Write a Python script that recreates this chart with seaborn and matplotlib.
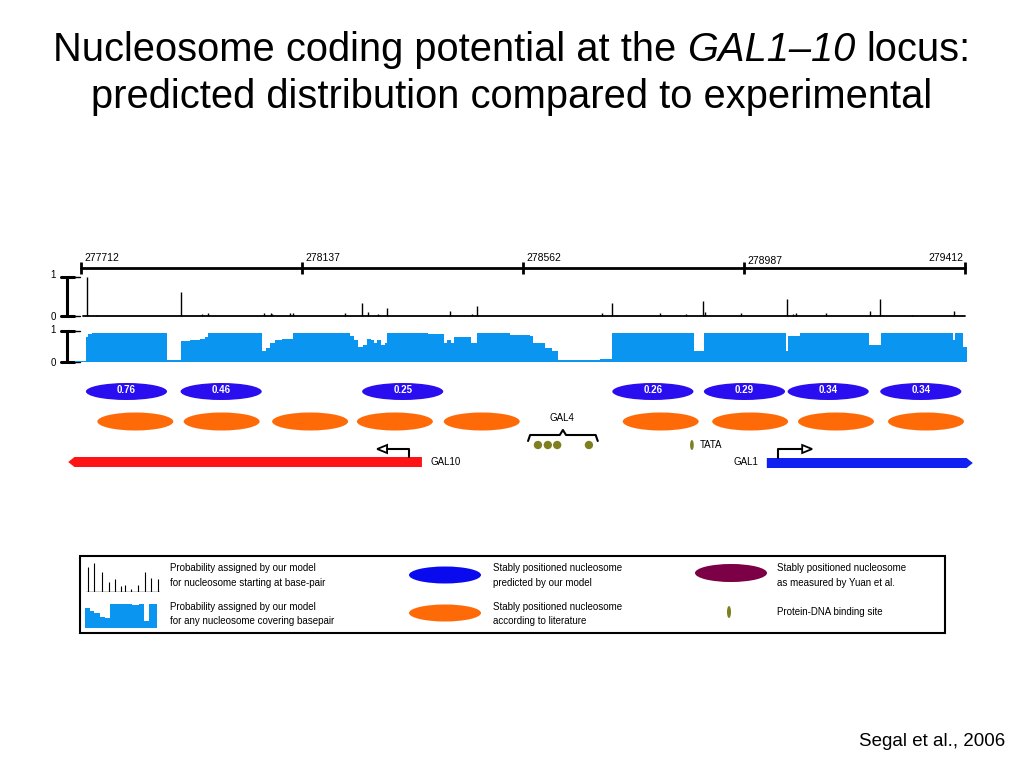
import numpy as np
import pandas as pd
import seaborn as sns
import matplotlib.pyplot as plt
from matplotlib.patches import Ellipse, Rectangle, Polygon

# dados (coordenadas genomicas em pb)
ruler_ticks = [277712, 278137, 278562, 278987, 279412]

spike_pos = [277724, 277743, 277905, 277945, 277957, 278064, 278078, 278080, 278114,
             278120, 278220, 278253, 278264, 278284, 278301, 278422, 278464, 278474,
             278714, 278733, 278743, 278826, 278876, 278908, 278912, 278981, 279070,
             279081, 279087, 279145, 279229, 279249, 279310, 279391]
spike_h = [1.0, 0.02, 0.62, 0.05, 0.08, 0.08, 0.08, 0.06, 0.08,
           0.08, 0.08, 0.34, 0.10, 0.04, 0.20, 0.12, 0.04, 0.25,
           0.08, 0.34, 0.03, 0.08, 0.04, 0.38, 0.10, 0.08, 0.44,
           0.06, 0.08, 0.08, 0.12, 0.44, 0.03, 0.12]

cov_x = [277701, 277711, 277722, 277726, 277734, 277878, 277905, 277922, 277941, 277951,
         277957, 278061, 278068, 278076, 278086, 278099, 278120, 278230, 278237, 278245,
         278255, 278262, 278270, 278276, 278282, 278289, 278297, 278301, 278380, 278410,
         278416, 278424, 278430, 278462, 278474, 278537, 278576, 278581, 278605, 278618,
         278630, 278672, 278710, 278733, 278826, 278891, 278910, 279031, 279068, 279072,
         279095, 279227, 279251, 279389, 279393, 279408, 279416]
cov_y = [0.03, 0.04, 0.80, 0.90, 0.94, 0.05, 0.68, 0.72, 0.75, 0.80,
         0.95, 0.35, 0.45, 0.60, 0.70, 0.75, 0.95, 0.85, 0.70, 0.50,
         0.55, 0.75, 0.70, 0.60, 0.70, 0.55, 0.62, 0.95, 0.90, 0.60,
         0.72, 0.62, 0.80, 0.60, 0.95, 0.88, 0.85, 0.60, 0.45, 0.35,
         0.05, 0.08, 0.10, 0.95, 0.92, 0.35, 0.95, 0.92, 0.35, 0.85,
         0.92, 0.55, 0.95, 0.70, 0.95, 0.50, 0.50]

pred_centers = [277800, 277982, 278331, 278812, 278988, 279149, 279327]
pred_scores = ["0.76", "0.46", "0.25", "0.26", "0.29", "0.34", "0.34"]
lit_centers = [277817, 277983, 278153, 278316, 278483, 278827, 278999, 279164, 279337]

gal4_sites = [278591, 278610, 278628, 278689]
tata_site = 278887
gal10 = (277688, 278368)   # (ponta, fim)
gal10_tss = 278343
gal1 = (279031, 279427)
gal1_tss = 279053

# miniaturas da legenda
leg_spike_x = [2, 7, 14, 20, 25, 30, 33, 38, 44, 50, 55, 61]
leg_spike_h = [0.85, 1.0, 0.7, 0.35, 0.45, 0.2, 0.25, 0.1, 0.25, 0.7, 0.5, 0.45]
leg_cov_x = [0, 4, 8, 13, 17, 21, 33, 40, 46, 50, 54, 61]
leg_cov_y = [0.8, 0.7, 0.6, 0.45, 0.4, 0.95, 0.95, 0.92, 0.95, 0.3, 0.95, 0.95]

sns.set_theme(style="white")
plt.rcParams['font.family'] = ['Liberation Sans', 'DejaVu Sans']
plt.rcParams['text.color'] = 'black'

W, H = 1024, 768
fig = plt.figure(figsize=(10.24, 7.68), dpi=100)

def box(x0, y0, x1, y1):
    return [x0 / W, 1 - y1 / H, (x1 - x0) / W, (y1 - y0) / H]

# escala: 277712 em x=80.7px, 279412 em x=965px
bp_px = (ruler_ticks[-1] - ruler_ticks[0]) / (965 - 80.7)
X0 = ruler_ticks[0] + (40 - 80.7) * bp_px
X1 = ruler_ticks[0] + (1000 - 80.7) * bp_px

# camada em pixels para decoracoes
ov = fig.add_axes([0, 0, 1, 1])
ov.set_xlim(0, W); ov.set_ylim(H, 0); ov.axis("off")

# titulo com parte em italico
TS = 28.7
r = fig.canvas.get_renderer()
def wpx(s, style="normal"):
    t = ov.text(0, 0, s, fontsize=TS, style=style)
    w = t.get_window_extent(renderer=r).width
    t.remove()
    return w
sp = wpx("a a") - wpx("aa")
parts = [("Nucleosome coding potential at the", "normal"), ("GAL1\u201310", "italic"), ("locus:", "normal")]
ws = [wpx(s, st) for s, st in parts]
x = W / 2 - (sum(ws) + 2 * sp) / 2
for (s, st), w in zip(parts, ws):
    ov.text(x, 61, s, fontsize=TS, style=st, va="baseline", ha="left")
    x += w + sp
ov.text(W / 2, 108, "predicted distribution compared to experimental", fontsize=TS,
        ha="center", va="baseline")

# trilha de anotacao (y em pixels)
ax = fig.add_axes(box(40, 245, 1000, 480))
ax.set_xlim(X0, X1); ax.set_ylim(480, 245); ax.axis("off")

ax.plot([ruler_ticks[0], ruler_ticks[-1]], [268, 268], color="black", lw=2)
ax.vlines(ruler_ticks, 262, 274, color="black", lw=2)
for i, t in enumerate(ruler_ticks):
    if i == len(ruler_ticks) - 1:
        ax.text(t - 2 * bp_px, 261, str(t), fontsize=7.5, ha="right", va="baseline")
    else:
        ax.text(t + 4 * bp_px, 264 if i == 3 else 261, str(t), fontsize=7.5, ha="left", va="baseline")

for c, s in zip(pred_centers, pred_scores):
    ax.add_patch(Ellipse((c, 391.5), 156, 17, color="#2a0ef0", lw=0))
    ax.text(c, 390, s, color="white", fontsize=7, fontweight="bold", ha="center", va="center")
for c in lit_centers:
    ax.add_patch(Ellipse((c, 421.5), 146, 18, color="#ff6a08", lw=0))

# GAL4 e TATA
sns.scatterplot(x=gal4_sites, y=[445] * len(gal4_sites), ax=ax, color="#7f7f20", s=36,
                edgecolor="none", legend=False)
bl, br = min(gal4_sites) - 19, max(gal4_sites) + 17
bc = (bl + br) / 2
ax.plot([bl, bl + 4, bc - 6, bc, bc + 6, br - 4, br], [441, 435, 435, 430, 435, 435, 441],
        color="black", lw=1.5)
ax.text(bc - 2, 418, "GAL4", fontsize=7, ha="center", va="center")
ax.add_patch(Ellipse((tata_site, 445), 7, 10, color="#7f7f20", lw=0))
ax.text(tata_site + 16, 445, "TATA", fontsize=7, ha="left", va="center")

# genes
tip, end = gal10
ax.add_patch(Polygon([(tip, 462), (tip + 12, 457), (end, 457), (end, 467), (tip + 12, 467)],
                     closed=True, color="#fe1414", lw=0))
ax.text(end + 16, 462, "GAL10", fontsize=7, ha="left", va="center")
ax.plot([gal10_tss, gal10_tss, gal10_tss - 42], [457, 449, 449], color="black", lw=1.5)
ax.add_patch(Polygon([(gal10_tss - 42, 445), (gal10_tss - 61, 449), (gal10_tss - 42, 453)],
                     closed=True, facecolor="white", edgecolor="black", lw=1.3))

start, tip = gal1
ax.add_patch(Polygon([(start, 458), (tip - 12, 458), (tip, 463), (tip - 12, 468), (start, 468)],
                     closed=True, color="#1020f0", lw=0))
ax.text(start - 16, 462, "GAL1", fontsize=7, ha="right", va="center")
ax.plot([gal1_tss, gal1_tss, gal1_tss + 46], [458, 449, 449], color="black", lw=1.5)
ax.add_patch(Polygon([(gal1_tss + 46, 445), (gal1_tss + 65, 449), (gal1_tss + 46, 453)],
                     closed=True, facecolor="white", edgecolor="black", lw=1.3))

# trilha de picos
ax_s = fig.add_axes(box(40, 277, 1000, 316))
ax_s.set_xlim(X0, X1); ax_s.set_ylim(0, 1); ax_s.axis("off")
ax_s.vlines(spike_pos, 0, spike_h, color="black", lw=1, clip_on=False)
ax_s.plot([277717, ruler_ticks[-1]], [0, 0], color="black", lw=1.3, clip_on=False)

# trilha de cobertura
ax_c = fig.add_axes(box(40, 331, 1000, 362))
ax_c.set_xlim(X0, X1); ax_c.set_ylim(0, 1); ax_c.axis("off")
ax_c.fill_between(cov_x, cov_y, step="post", color="#0a96f0", lw=0)

# barras de escala 0-1
for top, bot in [(276.5, 316), (331, 361.7)]:
    ov.plot([67, 67], [top, bot], color="black", lw=2.2)
    ov.plot([61, 74], [top, top], color="black", lw=2.2)
    ov.plot([61, 74], [bot, bot], color="black", lw=2.2)
    ov.plot([74, 80], [top, top], color="black", lw=1)
    ov.plot([74, 80], [bot, bot], color="black", lw=1)
    ov.text(53, top - 1, "1", fontsize=7, ha="center", va="center")
    ov.text(53, bot + 1, "0", fontsize=7, ha="center", va="center")

# legenda
ov.add_patch(Rectangle((80, 556), 865, 77, fill=False, edgecolor="black", lw=1.5))
ax_ls = fig.add_axes(box(86, 563, 160, 592))
ax_ls.set_xlim(0, 63); ax_ls.set_ylim(0, 1); ax_ls.axis("off")
ax_ls.vlines(leg_spike_x, 0, leg_spike_h, color="black", lw=0.8)
ax_ls.plot([0, 63], [0, 0], color="black", lw=1)
ax_lc = fig.add_axes(box(85, 603, 157, 628))
ax_lc.set_xlim(0, 61); ax_lc.set_ylim(0, 1); ax_lc.axis("off")
ax_lc.fill_between(leg_cov_x, leg_cov_y, step="post", color="#0a96f0", lw=0)

ov.add_patch(Ellipse((445, 575), 72, 17, color="#0a0aee", lw=0))
ov.add_patch(Ellipse((445, 613), 72, 17, color="#ff6a08", lw=0))
ov.add_patch(Ellipse((731, 573), 72, 18, color="#7b0046", lw=0))
ov.add_patch(Ellipse((729, 612), 4, 12, color="#7f7f20", lw=0))

leg_txt = [
    (170, 568, "Probability assigned by our model"),
    (170, 583, "for nucleosome starting at base-pair"),
    (170, 607, "Probability assigned by our model"),
    (170, 621, "for any nucleosome covering basepair"),
    (493, 568, "Stably positioned nucleosome"),
    (493, 583, "predicted by our model"),
    (493, 607, "Stably positioned nucleosome"),
    (493, 621, "according to literature"),
    (777, 568, "Stably positioned nucleosome"),
    (777, 583, "as measured by Yuan et al."),
    (777, 612, "Protein-DNA binding site"),
]
for tx, ty, s in leg_txt:
    ov.text(tx, ty, s, fontsize=7, ha="left", va="center")

ov.text(1005, 742, "Segal et al., 2006", fontsize=13.5, ha="right", va="center")

plt.savefig("out.png", dpi=100)
